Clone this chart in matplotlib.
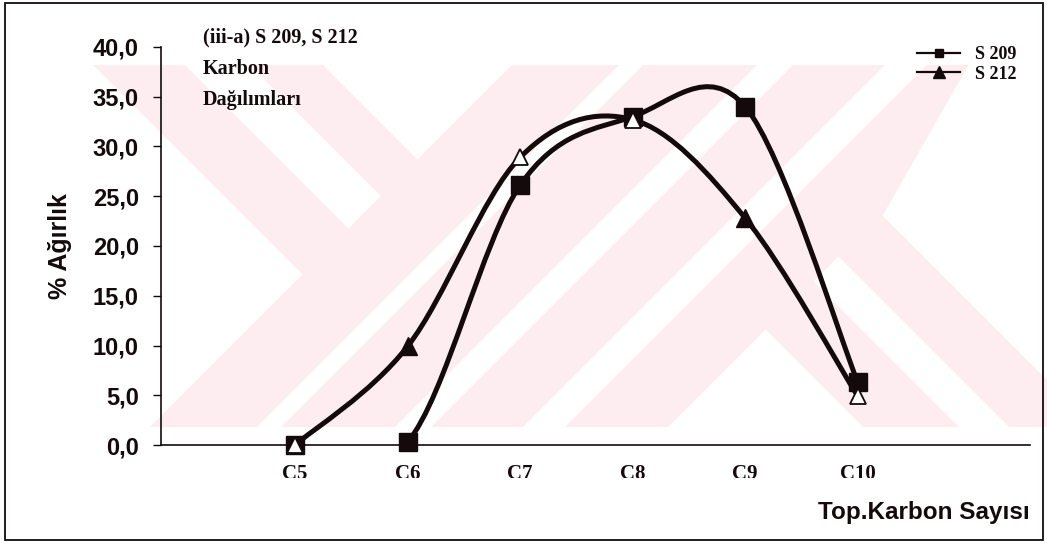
import numpy as np
import matplotlib
matplotlib.use("Agg")
import matplotlib.pyplot as plt
from matplotlib.path import Path
from matplotlib.patches import PathPatch, Polygon, Rectangle
from matplotlib.lines import Line2D
from matplotlib.transforms import Affine2D, Bbox, TransformedBbox

# ---- data -------------------------------------------------------------
categories = ["C5", "C6", "C7", "C8", "C9", "C10"]
s209 = [0.0, 0.3, 26.1, 33.0, 34.0, 6.3]
s212 = [0.0, 9.9, 28.9, 32.7, 22.8, 4.9]
series_names = ["S 209", "S 212"]
y_ticks = [0, 5, 10, 15, 20, 25, 30, 35, 40]
y_tick_labels = ["0,0", "5,0", "10,0", "15,0", "20,0", "25,0", "30,0", "35,0", "40,0"]
title_lines = ["(iii-a) S 209, S 212", "Karbon", "Dağılımları"]
y_label = "% Ağırlık"
x_label = "Top.Karbon Sayısı"

# hollow triangles for some S 212 points
s212_hollow = [True, False, True, True, False, True]

# ---- figure -----------------------------------------------------------
W, H = 1047, 544
INK = "#140a0c"
PINK = "#fdedf0"
fig = plt.figure(figsize=(W / 100, H / 100), dpi=100)
fig.patch.set_facecolor("white")

# pixel coordinates measured from the top-left corner
px = Affine2D().scale(1 / W, -1 / H).translate(0, 1) + fig.transFigure


def clip_poly(poly, a, b, c):
    """Keep the part of a convex polygon where a*x + b*y <= c."""
    out = []
    n = len(poly)
    for i in range(n):
        p, q = poly[i], poly[(i + 1) % n]
        fp = a * p[0] + b * p[1] - c
        fq = a * q[0] + b * q[1] - c
        if fp <= 0:
            out.append(p)
        if fp * fq < 0:
            t = fp / (fp - fq)
            out.append((p[0] + t * (q[0] - p[0]), p[1] + t * (q[1] - p[1])))
    return out


def region(*planes):
    poly = [(0, 65), (W, 65), (W, 427), (0, 427)]
    for pl in planes:
        poly = clip_poly(poly, *pl)
        if not poly:
            break
    return poly


# background emblem: u = x - y, v = x + y
def u_le(c):
    return (1, -1, c)


def u_ge(c):
    return (-1, 1, -c)


def v_le(c):
    return (1, 1, c)


def v_ge(c):
    return (-1, -1, -c)


def right_of(p, q):
    """Half-plane to the right of the upward line p -> q."""
    nx, ny = p[1] - q[1], q[0] - p[0]
    c = nx * p[0] + ny * p[1]
    return (-nx, -ny, -c)


fig.add_artist(Polygon(region(), closed=True, transform=px, facecolor=PINK,
                       edgecolor="none", zorder=-10))
gaps = [
    region(u_le(28), v_le(577)),
    region(u_ge(258), v_le(577)),
    region(u_ge(120), u_le(185), v_le(577)),
    region(v_ge(684), v_le(708)),
    region(v_ge(822), v_le(858)),
    region(v_ge(950), v_le(992)),
    region(v_ge(1095), u_le(436)),
    region(v_ge(1095), u_ge(532), u_le(582)),
    region(right_of((883, 215), (960, 80)), u_ge(667)),
]
for g in gaps:
    if len(g) >= 3:
        fig.add_artist(Polygon(g, closed=True, transform=px, facecolor="white",
                               edgecolor="none", zorder=-9))

# outer frame
fig.add_artist(Rectangle((5, 3), 1038, 537, transform=px, fill=False,
                         edgecolor=INK, linewidth=1.3, zorder=5))

# ---- axes ---------------------------------------------------------------
left, right, top, bottom = 161, 1030, 47, 445
ax = fig.add_axes([left / W, 1 - bottom / H, (right - left) / W, (bottom - top) / H])
ax.set_facecolor("none")

x = np.arange(len(categories))
ax.set_xlim(-1.19, 6.53)
ax.set_ylim(0, 40)

for side in ("top", "right"):
    ax.spines[side].set_visible(False)
for side in ("left", "bottom"):
    ax.spines[side].set_color(INK)
    ax.spines[side].set_linewidth(1.2)

ax.set_yticks(y_ticks, y_tick_labels)
ax.tick_params(axis="y", direction="out", length=6, width=1.0, color=INK, pad=10,
               labelsize=17, labelcolor=INK)
for lab in ax.get_yticklabels():
    lab.set_fontfamily("Liberation Sans")
    lab.set_fontweight("bold")

ax.set_xticks(x, categories)
ax.tick_params(axis="x", length=0, pad=14, labelsize=15, labelcolor=INK)
cut = TransformedBbox(Bbox([[0, 1 - 478 / H], [1, 1]]), fig.transFigure)
for tick in ax.xaxis.get_major_ticks():
    tick.label1.set_fontfamily("Liberation Serif")
    tick.label1.set_fontweight("bold")
    tick.label1.set_clip_box(cut)
    tick.label1.set_clip_on(True)


def smooth_path(xs, ys):
    pts = np.column_stack([xs, ys]).astype(float)
    n = len(pts)
    verts = [pts[0]]
    codes = [Path.MOVETO]
    for i in range(n - 1):
        p0 = pts[i - 1] if i > 0 else pts[i]
        p1 = pts[i]
        p2 = pts[i + 1]
        p3 = pts[i + 2] if i + 2 < n else pts[i + 1]
        verts += [p1 + (p2 - p0) / 6, p2 - (p3 - p1) / 6, p2]
        codes += [Path.CURVE4] * 3
    return Path(verts, codes)


LW = 3.6
for ys, z in ((s209, 3), (s212, 4)):
    patch = PathPatch(smooth_path(x, ys), fill=False, edgecolor=INK, linewidth=LW,
                      capstyle="round", joinstyle="round", zorder=z)
    ax.add_patch(patch)

ax.plot(x, s209, linestyle="none", marker="s", markersize=12.5, color=INK,
        markeredgecolor=INK, clip_on=False, zorder=5)
hollow = np.array(s212_hollow)
xa = np.asarray(x)
ya = np.asarray(s212)
ax.plot(xa[~hollow], ya[~hollow], linestyle="none", marker="^", markersize=13,
        color=INK, markeredgecolor=INK, clip_on=False, zorder=6)
ax.plot(xa[hollow], ya[hollow], linestyle="none", marker="^", markersize=12,
        markerfacecolor="white", markeredgecolor=INK, markeredgewidth=1.3,
        clip_on=False, zorder=6)

# ---- texts --------------------------------------------------------------
ax.yaxis.set_label_coords((72 - left) / (right - left), (bottom - 242) / (bottom - top))
ax.set_ylabel(y_label, fontfamily="Liberation Sans", fontweight="bold", fontsize=18,
              color=INK)

fig.text(1030 / W, 1 - 519 / H, x_label, ha="right", va="baseline",
         fontfamily="Liberation Sans", fontweight="bold", fontsize=17.5, color=INK)

for line, base in zip(title_lines, (42, 74, 105)):
    fig.text(203 / W, 1 - base / H, line, ha="left", va="baseline",
             fontfamily="Liberation Serif", fontweight="bold", fontsize=14.5,
             color=INK)

# ---- legend -------------------------------------------------------------
handles = [
    Line2D([], [], color=INK, linewidth=1.6, marker="s", markersize=6),
    Line2D([], [], color=INK, linewidth=1.6, marker="^", markersize=8),
]
leg = fig.legend(handles, series_names, loc="upper left",
                 bbox_to_anchor=(917 / W, 1 - 46 / H), frameon=False,
                 borderpad=0, borderaxespad=0, handlelength=2.4,
                 handletextpad=0.8, labelspacing=0.15,
                 prop={"family": "Liberation Serif", "weight": "bold", "size": 13})
for t in leg.get_texts():
    t.set_color(INK)

fig.savefig("out.png", dpi=100, facecolor="white")
